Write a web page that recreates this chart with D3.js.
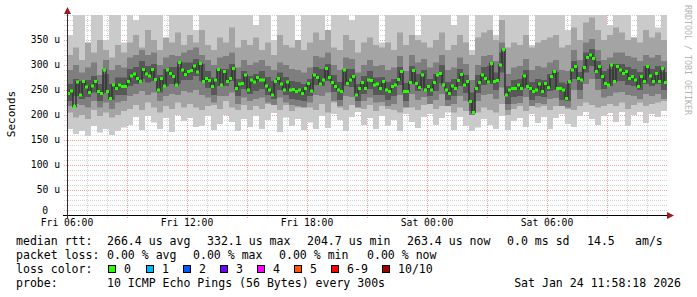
<!DOCTYPE html>
<meta charset="utf-8">
<style>
body { margin: 0; background: #fff; }
text { font-family: "DejaVu Sans Mono", monospace; }
</style>
<svg width="697" height="297"></svg>
<script src="https://d3js.org/d3.v7.min.js"></script>
<script>

// median rtt in microseconds, one value every 9 minutes from Fri 06:00
var median = [
  243,248,217,266,240,267,256,245,258,267,247,243,290,247,233,260,253,260,257,257,
  267,278,282,273,267,291,282,278,291,271,250,273,258,290,283,277,260,305,290,281,
  287,289,298,286,303,267,273,269,257,270,291,260,287,267,273,293,253,262,263,280,
  250,270,266,275,270,270,258,250,240,267,273,262,250,266,250,251,247,250,243,253,
  263,248,280,275,262,270,293,275,265,257,250,247,290,263,270,277,240,253,265,253,
  270,269,260,262,253,267,250,247,257,260,271,287,247,247,265,289,263,255,280,250,
  257,250,265,280,283,260,250,243,258,253,269,281,260,267,227,205,253,265,280,273,
  266,303,267,269,300,331,240,250,253,253,260,253,278,257,253,247,250,262,247,263,
  255,277,287,253,253,250,233,267,290,297,273,270,295,315,320,313,287,297,277,263,
  260,300,267,297,290,283,287,273,277,270,257,277,267,297,278,267,283,267,293,265
];

// smoke: sorted ping spread, one value every 18 minutes
var p10 = [
  360,420,420,340,420,420,350,420,420,345, 420,390,420,420,420,420,330,420,420,420,
  420,370,420,420,420,420,420,420,420,400, 420,380,420,420,350,420,420,420,340,420,
  420,420,420,370,420,420,420,390,420,420, 420,420,345,420,420,420,420,420,360,420,
  420,420,420,420,380,420,420,330,420,420, 420,360,420,420,420,420,420,340,420,420,
  420,420,420,370,420,420,420,420,420,420, 380,420,420,420,355,420,420,420,375,420
];
var p1 = [
  172,162,168,158,178,165,172,160,168,175, 180,196,170,198,185,172,194,166,200,188,
  194,176,178,198,170,182,200,186,168,192, 176,198,172,190,204,166,195,178,192,170,
  185,172,198,174,202,190,168,196,206,180, 194,172,198,178,190,168,202,186,174,196,
  202,180,194,205,170,196,178,168,175,192, 180,172,198,170,188,194,176,202,184,196,
  172,194,202,182,176,198,206,192,180,198, 204,186,206,178,200,206,184,202,196,208
];
var p9 = [
  320,335,310,345,325,350,330,315,340,325, 345,360,335,370,350,330,355,345,365,340,
  360,345,370,340,330,355,345,375,335,350, 340,355,330,345,320,360,340,335,350,330,
  345,365,350,370,335,330,360,350,325,345, 355,340,335,345,330,365,340,360,350,345,
  335,350,365,330,340,360,345,320,355,365, 370,350,390,335,345,340,360,335,345,350,
  355,360,335,340,375,350,385,395,370,350, 360,375,365,350,355,345,370,355,365,350
];
var p2 = [
  205,195,200,192,210,198,205,195,200,208, 212,220,210,225,215,205,218,212,225,215,
  222,215,210,218,220,212,228,215,210,220, 210,218,212,222,228,210,220,208,215,222,
  215,210,222,205,225,215,210,220,228,212, 220,208,218,212,210,205,225,215,210,220,
  222,212,218,225,205,215,208,200,205,215, 210,205,222,200,212,218,208,222,215,218,
  210,218,222,212,210,218,225,220,215,218, 222,218,225,212,220,225,218,222,225,228
];
var p8 = [
  290,300,285,295,305,280,310,290,300,295, 315,320,330,320,325,300,315,320,318,325,
  330,335,320,310,300,315,318,325,295,310, 300,305,310,298,290,305,300,292,290,285,
  295,318,315,325,300,290,315,312,285,300, 310,298,300,290,295,318,288,320,305,312,
  295,305,320,290,295,315,302,270,300,318, 320,308,345,282,295,298,312,290,298,295,
  305,310,290,288,330,310,345,352,330,310, 315,325,325,318,315,308,320,315,320,308
];
var p3 = [
  218,222,220,215,228,215,225,212,225,228, 238,242,248,240,245,228,238,242,240,248,
  245,250,240,235,225,238,238,245,222,235, 228,232,235,225,220,235,225,220,218,215,
  225,240,238,245,228,218,238,236,215,228, 235,225,226,218,222,240,215,242,230,236,
  222,230,242,218,222,238,228,200,228,240, 242,232,255,210,222,224,236,218,224,222,
  232,234,218,215,250,232,262,272,250,235, 238,245,246,240,238,232,242,238,242,232
];
var p7 = [
  262,272,268,270,278,262,282,262,275,275, 292,296,308,298,302,280,292,296,296,305,
  305,312,302,288,275,292,292,302,272,288, 278,282,288,276,268,285,276,268,266,262,
  272,296,292,302,280,266,292,292,262,278, 288,275,276,266,272,296,264,298,282,290,
  272,282,300,266,272,292,280,245,280,296, 298,285,325,258,270,272,290,266,272,270,
  282,286,265,262,308,286,325,332,308,288, 292,302,302,296,292,286,298,292,298,286
];
var p4 = [
  228,238,232,236,245,228,244,230,240,240, 258,262,272,265,268,245,258,262,262,270,
  270,278,268,254,240,258,258,268,238,252, 242,248,252,240,232,250,240,232,230,228,
  238,260,258,268,246,230,258,256,228,242, 252,240,240,230,238,260,228,262,248,254,
  238,248,264,230,238,258,244,208,244,260, 262,250,285,222,236,238,254,230,238,236,
  248,250,230,228,272,250,285,298,272,252, 258,268,268,260,258,250,262,258,262,250
];

var yTicks = [0, 50, 100, 150, 200, 250, 300, 350];

var statLine = [
  ["median rtt:", 16], ["266.4 us avg", 107], ["332.1 us max", 207], ["204.7 us min", 307],
  ["263.4 us now", 407], ["0.0 ms sd", 507], ["14.5", 587], ["am/s", 635]
];
var lossLine = [
  ["packet loss:", 16], ["0.00 % avg", 107], ["0.00 % max", 193], ["0.00 % min", 279], ["0.00 % now", 367]
];
var lossNames = ["0", "1", "2", "3", "4", "5", "6-9", "10/10"];
var lossColors = ["#26ff00", "#00b8ff", "#0059ff", "#7000ff", "#ff00ff", "#ff5500", "#ff0000", "#a00000"];
var lossX = [108, 146, 183, 220, 257, 294, 331, 382];

var svg = d3.select("svg");

var t0 = Date.UTC(2026, 0, 23, 6, 0);
var hour = 3600 * 1000;

var x = d3.scaleUtc()
    .domain([t0, t0 + 30 * hour])
    .range([67, 667]);

var y = d3.scaleLinear()
    .domain([0, 400])
    .range([215, 15]);

svg.append("rect").attr("width", 697).attr("height", 297).attr("fill", "#fff");

svg.append("defs").append("clipPath").attr("id", "plot")
  .append("rect").attr("x", 67).attr("y", 15).attr("width", 600).attr("height", 200);

// grid
var grid = svg.append("g");
d3.range(10, 401, 10).forEach(function(v) {
  var major = v % 50 == 0 && v < 400;
  grid.append("line")
      .attr("x1", 64).attr("x2", 667)
      .attr("y1", y(v) + 0.5).attr("y2", y(v) + 0.5)
      .attr("stroke", major ? "#eaa0a0" : "#d2d2d2")
      .attr("stroke-dasharray", "1,1");
});
d3.range(1, 30).forEach(function(h) {
  var major = h % 3 == 0;
  grid.append("line")
      .attr("x1", x(t0 + h * hour) + 0.5).attr("x2", x(t0 + h * hour) + 0.5)
      .attr("y1", 15).attr("y2", 218)
      .attr("stroke", major ? "#eaa0a0" : "#d2d2d2")
      .attr("stroke-dasharray", "1,1");
});

// smoke
var plot = svg.append("g").attr("clip-path", "url(#plot)");
var bandStep = 18 * 60 * 1000;
var bands = [[p1, p10, "#cacaca"], [p2, p9, "#a4a4a4"], [p3, p8, "#7e7e7e"], [p4, p7, "#585858"]];

bands.forEach(function(b) {
  plot.append("g").selectAll("rect")
    .data(b[0])
    .enter().append("rect")
      .attr("x", function(d, i) { return x(t0 + i * bandStep); })
      .attr("width", function(d, i) { return x(t0 + (i + 1) * bandStep) - x(t0 + i * bandStep); })
      .attr("y", function(d, i) { return y(b[1][i]); })
      .attr("height", function(d, i) { return y(d) - y(b[1][i]); })
      .attr("fill", b[2]);
});

var medStep = 9 * 60 * 1000;
var medLine = d3.line()
    .x(function(d, i) { return x(t0 + i * medStep); })
    .y(function(d) { return y(d); })
    .curve(d3.curveStepAfter);

plot.append("path")
    .datum(median)
    .attr("fill", "none")
    .attr("stroke", "#323232")
    .attr("stroke-width", 1.5)
    .attr("d", medLine);

plot.append("g").selectAll("rect")
  .data(median)
  .enter().append("rect")
    .attr("x", function(d, i) { return x(t0 + i * medStep); })
    .attr("width", function(d, i) { return x(t0 + (i + 1) * medStep) - x(t0 + i * medStep); })
    .attr("y", function(d) { return y(d) - 1.5; })
    .attr("height", 3)
    .attr("fill", lossColors[0]);

// axes
svg.append("line").attr("x1", 63).attr("x2", 668).attr("y1", 215.5).attr("y2", 215.5)
    .attr("stroke", "#000");
svg.append("line").attr("x1", 67.5).attr("x2", 67.5).attr("y1", 218).attr("y2", 12)
    .attr("stroke", "#3a2a2a");
svg.append("path").attr("d", "M667,212L674,215.5L667,219Z").attr("fill", "#9b1c1c");
svg.append("path").attr("d", "M64,14L67.5,7L71,14Z").attr("fill", "#9b1c1c");

svg.append("g").selectAll("text")
  .data(yTicks)
  .enter().append("text")
    .attr("x", function(d) { return d == 0 ? 48 : 60; })
    .attr("y", function(d) { return d == 0 ? y(d) - 4 : y(d); })
    .attr("dy", "0.35em")
    .attr("text-anchor", "end")
    .attr("font-size", "9.7px")
    .text(function(d) { return d == 0 ? "0" : d + " u"; });

var xTicks = d3.range(0, 30, 6).map(function(h) { return new Date(t0 + h * hour); });
svg.append("g").selectAll("text")
  .data(xTicks)
  .enter().append("text")
    .attr("x", function(d) { return x(d); })
    .attr("y", 226)
    .attr("text-anchor", "middle")
    .attr("font-size", "9.7px")
    .text(d3.utcFormat("%a %H:%M"));

svg.append("text")
    .attr("transform", "translate(15,114) rotate(-90)")
    .attr("text-anchor", "middle")
    .attr("font-size", "11px")
    .text("Seconds");

svg.append("text")
    .attr("transform", "translate(685,5) rotate(90)")
    .attr("font-size", "8.3px")
    .attr("fill", "#b4b4b4")
    .text("RRDTOOL / TOBI OETIKER");

// legend
var legend = svg.append("g").attr("font-size", "11.55px").attr("fill", "#000");

legend.selectAll(".stat")
  .data(statLine)
  .enter().append("text")
    .attr("x", function(d) { return d[1]; })
    .attr("y", 245)
    .text(function(d) { return d[0]; });

legend.selectAll(".loss")
  .data(lossLine)
  .enter().append("text")
    .attr("x", function(d) { return d[1]; })
    .attr("y", 259)
    .text(function(d) { return d[0]; });

legend.append("text").attr("x", 16).attr("y", 273).text("loss color:");

legend.selectAll("rect")
  .data(lossNames)
  .enter().append("rect")
    .attr("x", function(d, i) { return lossX[i] + 0.5; })
    .attr("y", 265.5)
    .attr("width", 7)
    .attr("height", 7)
    .attr("fill", function(d, i) { return lossColors[i]; })
    .attr("stroke", "#000")
    .attr("stroke-width", 1);

legend.selectAll(".lname")
  .data(lossNames)
  .enter().append("text")
    .attr("x", function(d, i) { return lossX[i] + 16; })
    .attr("y", 273)
    .text(function(d) { return d; });

legend.append("text").attr("x", 16).attr("y", 287).text("probe:");
legend.append("text").attr("x", 107).attr("y", 287).text("10 ICMP Echo Pings (56 Bytes) every 300s");
legend.append("text").attr("x", 681).attr("y", 287).attr("text-anchor", "end").text("Sat Jan 24 11:58:18 2026");

</script>
